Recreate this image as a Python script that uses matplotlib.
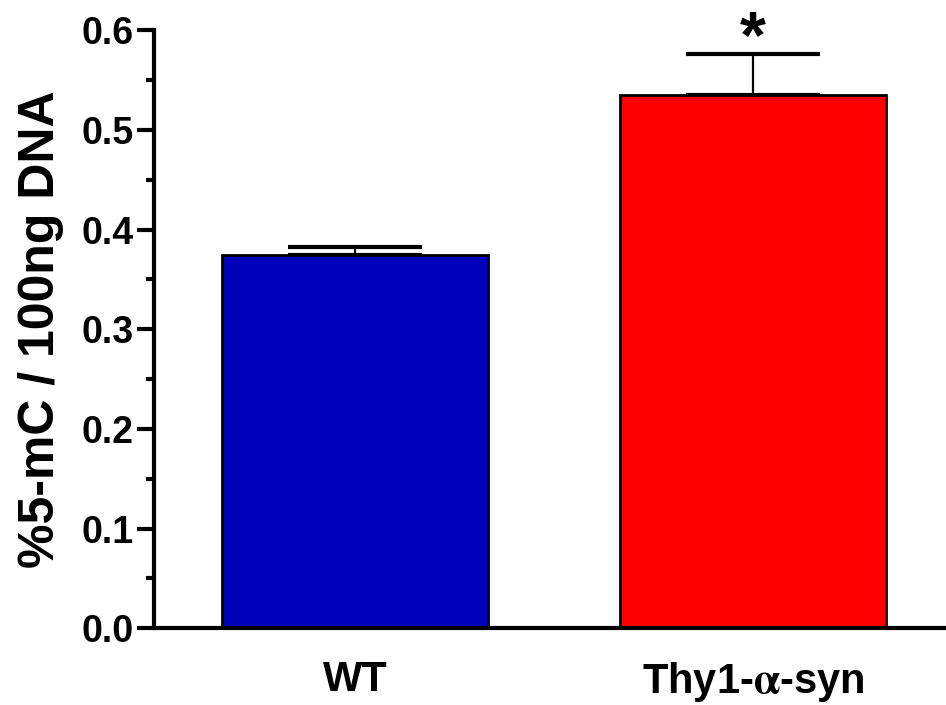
import numpy as np
import matplotlib.pyplot as plt
from matplotlib import font_manager

# condensed bold face for the axis labels, if it is available
try:
    font_manager.findfont("Liberation Sans Narrow", fallback_to_default=False)
    LABEL_FAMILY = ["Liberation Sans Narrow", "Liberation Sans", "DejaVu Sans"]
    YLABEL_SIZE, XLABEL_SIZE = 43, 33
except ValueError:
    LABEL_FAMILY = ["Liberation Sans", "DejaVu Sans"]
    YLABEL_SIZE, XLABEL_SIZE = 36, 30

plt.rcParams.update({
    "font.family": ["Liberation Sans", "DejaVu Sans"],
    "font.weight": "bold",
    "mathtext.fontset": "stix",
})

# data
groups = ["WT", r"Thy1-$\mathrm{\alpha}$-syn"]
means = [0.375, 0.535]
sem = [0.008, 0.041]
colors = ["#0000BB", "#FF0000"]
sig_marks = ["", "*"]

fig = plt.figure(figsize=(9.46, 7.05), dpi=100)
ax = fig.add_axes([0.163, 0.109, 0.837, 0.848])

x = np.arange(len(groups))
ax.bar(x, means, width=0.668, color=colors, edgecolor="black", linewidth=2, zorder=2)
ax.errorbar(x, means, yerr=[np.zeros(len(sem)), sem], fmt="none", ecolor="black",
            elinewidth=1.6, capsize=48, capthick=3, zorder=1)

for xi, m, s, mark in zip(x, means, sem, sig_marks):
    if mark:
        ax.text(xi, 0.573, mark, ha="center", va="baseline",
                fontsize=48, fontweight="bold", clip_on=False)

ax.set_xlim(-0.505, 1.485)
ax.set_ylim(0, 0.6)
ax.set_yticks(np.arange(0, 0.61, 0.1))
ax.set_yticks(np.arange(0.05, 0.6, 0.1), minor=True)
ax.set_yticklabels([f"{v:.1f}" for v in np.arange(0, 0.61, 0.1)])
ax.set_xticks(x)
ax.set_xticklabels(groups, family=LABEL_FAMILY, fontsize=XLABEL_SIZE)

ax.tick_params(axis="y", which="major", length=12, width=3, labelsize=27, pad=3)
ax.tick_params(axis="y", which="minor", length=6, width=3)
ax.tick_params(axis="x", length=0, pad=23)

for side in ["top", "right"]:
    ax.spines[side].set_visible(False)
for side in ["left", "bottom"]:
    ax.spines[side].set_linewidth(3)

ax.set_ylabel("%5-mC / 100ng DNA", family=LABEL_FAMILY, fontsize=YLABEL_SIZE,
              fontweight="bold", labelpad=12)

fig.savefig("out.png", dpi=100)
